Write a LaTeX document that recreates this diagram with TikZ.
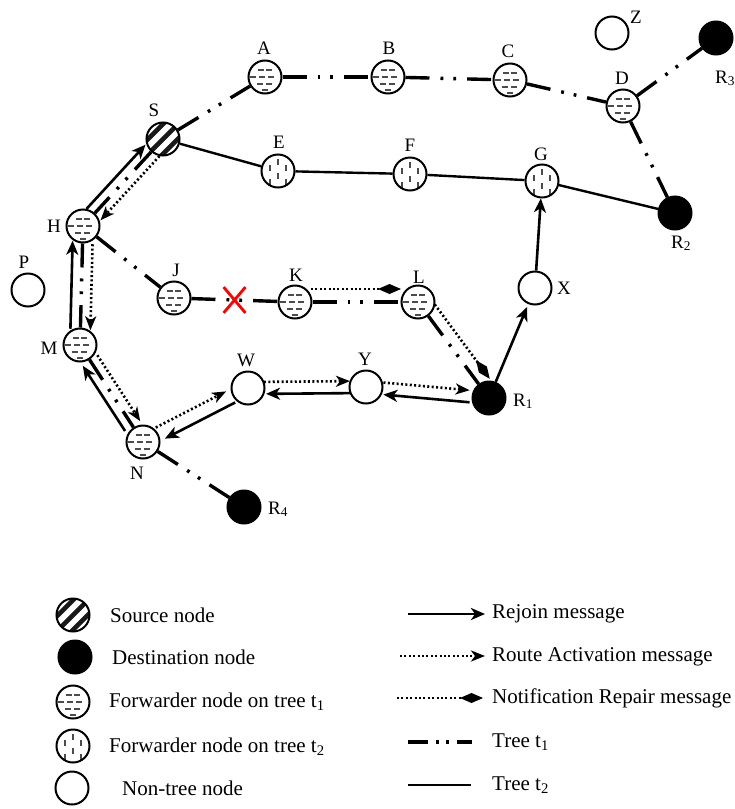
\documentclass[tikz,border=0pt]{standalone}
\usepackage{fontspec}
\setmainfont{Liberation Serif}
\usetikzlibrary{arrows.meta,calc,shapes.misc}

% message drawn beside the straight line between two nodes;
% #4 > 0 puts it on the left of the direction of travel
\newcommand\sidemsg[4]{%
  \draw[#1] ($(#2.center)!#4!90:(#3.center)$) -- ($(#3.center)!#4!-90:(#2.center)$);}

\begin{document}
\begin{tikzpicture}[x=1pt,y=-1pt,
  nd/.style={circle, draw=black, line width=2pt, minimum size=33pt, inner sep=0pt, fill=white},
  plain/.style={nd},
  dest/.style={nd, fill=black},
  source/.style={nd, path picture={
    \foreach \o in {-10.5,0,10.5}
      \draw[line width=4.6pt, black!90]
        ([xshift={(\o*0.7071-25)*1pt}, yshift={(-\o*0.7071-25)*1pt}]path picture bounding box.center)
        -- ++(50pt,50pt);}},
  fwdone/.style={nd, path picture={
    \foreach \dx/\dy in {-4/7,4/7,-12/0,-3/0,6/0,-5/-7,4/-7,0/-13}
      \draw[line width=1.9pt, black!70]
        ([xshift={(\dx-2.8)*1pt}, yshift={\dy*1pt}]path picture bounding box.center) -- ++(5.6pt,0pt);}},
  fwdtwo/.style={nd, path picture={
    \foreach \dx/\dy in {-8/3,0/9,0/-5,8/3,-8/-11,8/-11}
      \draw[line width=1.9pt, black!70]
        ([xshift={\dx*1pt}, yshift={(\dy-2.8)*1pt}]path picture bounding box.center) -- ++(0pt,5.6pt);}},
  lbl/.style={font=\fontsize{19}{22}\selectfont, inner sep=0pt, anchor=base},
  rlbl/.style={lbl, anchor=base west},
  leg/.style={font=\fontsize{21}{25}\selectfont, inner sep=0pt, anchor=base west},
  t1/.style={line width=3.4pt, dash pattern=on 24pt off 11pt on 2.8pt off 10pt on 2.8pt off 11pt},
  t2/.style={line width=2.4pt},
  rejoin/.style={line width=2.6pt, -{Stealth[length=14pt,width=12pt,inset=4pt]}},
  act/.style={line width=2.6pt, dash pattern=on 2pt off 2.4pt,
    -{Stealth[length=14pt,width=11pt,inset=4pt]}},
  note/.style={line width=2.6pt, dash pattern=on 2pt off 2.4pt,
    -{Diamond[length=23pt,width=10pt]}},
  cutmark/.style={cross out, draw=red, line width=2.8pt, minimum width=19pt,
    minimum height=23pt, inner sep=0pt}
]
\useasboundingbox (0,0) rectangle (734,809);

% ---------- nodes ----------
\node[source] (S) at (163,139) {};
\node[fwdone] (A) at (265,77) {};
\node[fwdone] (B) at (388,77) {};
\node[fwdone] (C) at (510,80) {};
\node[fwdone] (D) at (623,106) {};
\node[plain]  (Z) at (612,33) {};
\node[dest]   (R3) at (716,38) {};
\node[fwdtwo] (E) at (278,171) {};
\node[fwdtwo] (F) at (410,174) {};
\node[fwdtwo] (G) at (542,181) {};
\node[dest]   (R2) at (675,213) {};
\node[plain]  (X) at (535,288) {};
\node[fwdone] (H) at (83,226) {};
\node[plain]  (P) at (28,290) {};
\node[fwdone] (J) at (174,298) {};
\node[fwdone] (K) at (295,302) {};
\node[fwdone] (L) at (418,302) {};
\node[fwdone] (M) at (80,345) {};
\node[fwdone] (N) at (143,442) {};
\node[plain]  (W) at (248,388) {};
\node[plain]  (Y) at (366,387) {};
\node[dest]   (R1) at (489,398) {};
\node[dest]   (R4) at (244,507) {};

% ---------- labels ----------
\node[lbl] (lS) at (154,116) {S};
\node[lbl] (lA) at (264,54) {A};
\node[lbl] (lB) at (389,54) {B};
\node[lbl] (lC) at (508,57) {C};
\node[lbl] (lD) at (622,84) {D};
\node[lbl] (lZ) at (636,23) {Z};
\node[rlbl] (lR3) at (715,83) {R\textsubscript{3}};
\node[lbl] (lE) at (279,148) {E};
\node[lbl] (lF) at (410,151) {F};
\node[lbl] (lG) at (541,160) {G};
\node[rlbl] (lR2) at (671,248) {R\textsubscript{2}};
\node[lbl] (lX) at (564,294) {X};
\node[lbl] (lH) at (54,232) {H};
\node[lbl] (lP) at (24,268) {P};
\node[lbl] (lJ) at (176,276) {J};
\node[lbl] (lK) at (296,281) {K};
\node[lbl] (lL) at (419,283) {L};
\node[lbl] (lM) at (49,354) {M};
\node[lbl] (lN) at (137,479) {N};
\node[lbl] (lW) at (246,366) {W};
\node[lbl] (lY) at (365,365) {Y};
\node[rlbl] (lR1) at (513,406) {R\textsubscript{1}};
\node[rlbl] (lR4) at (268,514) {R\textsubscript{4}};

% ---------- tree t1 ----------
\draw[t1] (S) -- (A);
\draw[t1] (A) -- (B);
\draw[t1] (B) -- (C);
\draw[t1] (C) -- (D);
\draw[t1] (D) -- (R3);
\draw[t1] (D) -- (R2);
\draw[t1] (S) -- (H);
\draw[t1] (H) -- (J);
\draw[t1] (J) -- (K);
\draw[t1] (K) -- (L);
\draw[t1] (L) -- (R1);
\draw[t1] (H) -- (M);
\draw[t1] (M) -- (N);
\draw[t1] (N) -- (R4);

% ---------- tree t2 ----------
\draw[t2] (S) -- (E);
\draw[t2] (E) -- (F);
\draw[t2] (F) -- (G);
\draw[t2] (G) -- (R2);

% broken link
\node[cutmark] (cut) at ($(J)!0.5!(K)$) {};

% ---------- messages ----------
\sidemsg{rejoin, shorten <=15pt, shorten >=16pt}{H}{S}{9pt}
\sidemsg{act, shorten <=15pt, shorten >=16pt}{S}{H}{9pt}
\sidemsg{rejoin, shorten <=16pt, shorten >=15pt}{M}{H}{10pt}
\sidemsg{act, shorten <=18pt, shorten >=15pt}{H}{M}{10pt}
\sidemsg{rejoin, shorten <=19pt, shorten >=19pt}{N}{M}{9pt}
\sidemsg{act, shorten <=18pt, shorten >=19pt}{M}{N}{9pt}
\sidemsg{act, shorten <=18pt, shorten >=21pt}{N}{W}{7pt}
\sidemsg{rejoin, shorten <=18pt, shorten >=21pt}{W}{N}{7pt}
\sidemsg{act, shorten <=16pt, shorten >=16pt}{W}{Y}{6pt}
\sidemsg{rejoin, shorten <=16pt, shorten >=18pt}{Y}{W}{6pt}
\sidemsg{act, shorten <=17pt, shorten >=20pt}{Y}{R1}{6pt}
\sidemsg{rejoin, shorten <=19pt, shorten >=18pt}{R1}{Y}{6pt}
\sidemsg{note, shorten <=16pt, shorten >=17pt}{K}{L}{13pt}
\sidemsg{note, shorten <=12pt, shorten >=15pt}{L}{R1}{12pt}
\draw[rejoin, shorten >=3pt] (R1) -- (X);
\draw[rejoin] (X) -- (G);

% ---------- legend: node kinds ----------
\node[source] (kS) at (73,615) {};
\node[dest]   (kD) at (75,657) {};
\node[fwdone] (kF1) at (73,702) {};
\node[fwdtwo] (kF2) at (73,746) {};
\node[plain]  (kN) at (72,788) {};
\node[leg] (kSt) at (110,622) {Source node};
\node[leg] (kDt) at (112,664) {Destination node};
\node[leg] (kF1t) at (109,707) {Forwarder node on tree t\textsubscript{1}};
\node[leg] (kF2t) at (109,752) {Forwarder node on tree t\textsubscript{2}};
\node[leg] (kNt) at (122,795) {Non-tree node};

% ---------- legend: line kinds ----------
\coordinate (a1) at (408,614); \coordinate (a2) at (485,614);
\coordinate (b1) at (400,656); \coordinate (b2) at (485,656);
\coordinate (c1) at (397,698); \coordinate (c2) at (483,698);
\coordinate (d1) at (408,742); \coordinate (d2) at (472,742);
\coordinate (e1) at (408,785); \coordinate (e2) at (471,785);
\draw[rejoin] (a1) -- (a2);
\draw[act] (b1) -- (b2);
\draw[note] (c1) -- (c2);
\draw[line width=3.4pt, dash pattern=on 20pt off 8pt on 2.8pt off 7pt on 2.8pt off 8pt] (d1) -- (d2);
\draw[t2] (e1) -- (e2);
\node[leg] (ka) at (492,618) {Rejoin message};
\node[leg] (kb) at (492,661) {Route Activation message};
\node[leg] (kc) at (492,703) {Notification Repair message};
\node[leg] (kd) at (492,747) {Tree t\textsubscript{1}};
\node[leg] (ke) at (492,790) {Tree t\textsubscript{2}};
\end{tikzpicture}
\end{document}
